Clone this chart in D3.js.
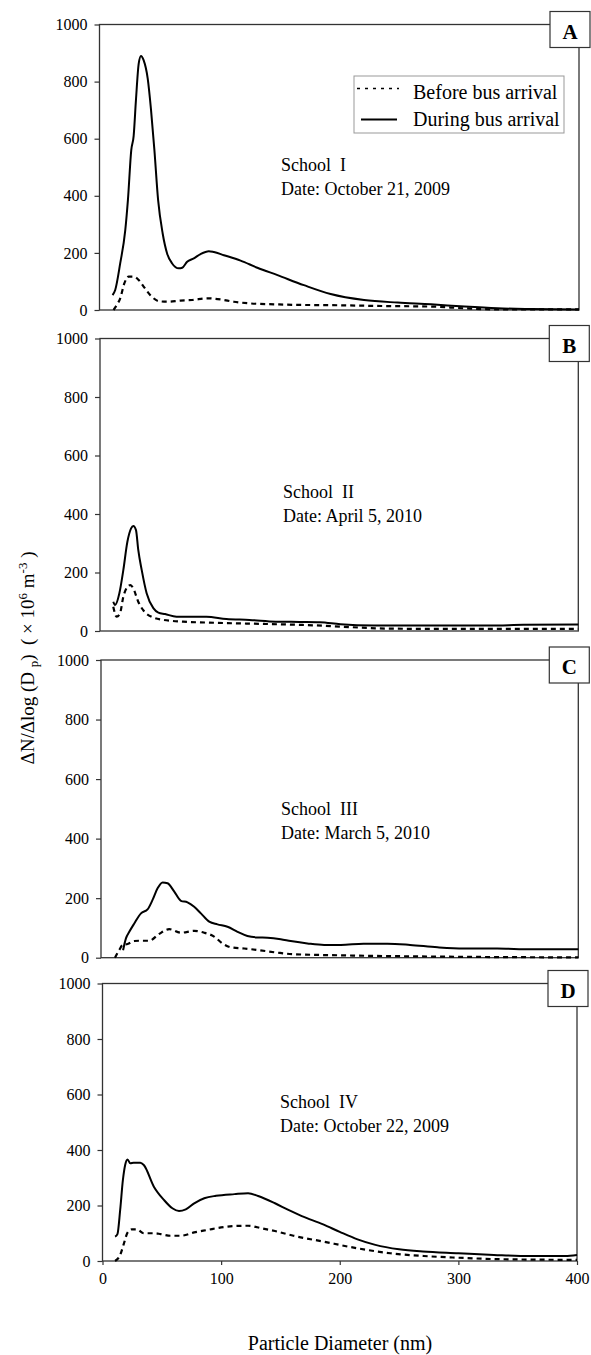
<!DOCTYPE html>
<html><head><meta charset="utf-8">
<script src="https://cdn.jsdelivr.net/npm/d3@7"></script>
<style>
body{margin:0;background:#fff}
svg{display:block}
text{font-family:"Liberation Serif","Times New Roman",serif;fill:#000}
</style>
</head><body>
<svg id="chart" width="591" height="1355"></svg>
<script>
// ---- data ----
const panelLetters = ["A", "B", "C", "D"];
const schoolNames = ["School  I", "School  II", "School  III", "School  IV"];
const schoolDates = ["Date: October 21, 2009", "Date: April 5, 2010", "Date: March 5, 2010", "Date: October 22, 2009"];
const seriesNames = ["Before bus arrival", "During bus arrival"];
const yTickValues = [0, 200, 400, 600, 800, 1000];
const xTickValues = [0, 100, 200, 300, 400];
const xAxisTitle = "Particle Diameter (nm)";

// [particle diameter (nm), dN/dlogDp (x10^6 m^-3)]
const schoolI_before = [[11.7,0],[14.5,18],[17.3,41],[20.7,93],[24.3,117],[28.5,117],[32.7,105],[36.8,82],[42.4,52],[49.4,31],[56.4,29],[67.5,33],[77.3,35],[89.9,41],[101,37],[112,29],[126,23],[145.6,20],[162,18],[193,17],[235,14],[277,12],[304,6],[332,2],[400,2]];
const schoolI_during = [[10.9,52],[13.1,70],[17.3,164],[21.5,280],[23.7,385],[26.5,560],[28.5,610],[30.4,735],[32.7,863],[34.6,890],[36.8,875],[40.2,811],[43,700],[45.8,560],[48.9,385],[52.7,268],[56.4,198],[60.6,163],[66.1,146],[69,148],[73.1,169],[78.7,181],[84.3,196],[91.2,206],[95.4,203],[103.8,192],[117.7,173],[131.7,148],[148.5,122],[170.5,87],[192.8,56],[220.7,35],[248.7,26],[276.6,20],[304.5,12],[332,6],[360,3.5],[400,2]];

const schoolII_before = [[11.1,83],[13.9,49],[16.7,60],[19.5,117],[23,151],[25.5,157],[27.8,146],[32,100],[36,72],[44.6,46],[53,38],[69.5,32],[97,28],[139,24],[167,21],[187,18],[201,15],[243,8],[300,7],[400,7]];
const schoolII_during = [[11.1,100],[12.6,89],[16.2,129],[19.5,208],[22.9,305],[26,351],[27.9,359],[30.1,345],[32,277],[34.9,208],[39,129],[44.6,78],[48.8,63],[54.4,58],[64,49],[89,49],[105.7,41],[125,38],[147,32],[167,31],[184,30],[201,23],[229,19],[284,19],[326,19],[354,21],[400,22]];

const schoolIII_before = [[11.7,0],[15.3,26],[18.1,43],[22.3,46],[27.9,56],[33.5,57],[40.4,57],[48.8,80],[57.2,96],[67,84],[78.1,90],[86.5,84],[94.8,71],[101.8,48],[108.8,35],[120,31],[131.1,26],[147.8,17],[160.4,12],[200,8],[250,5],[300,3],[400,1]];
const schoolIII_during = [[18.5,25],[20.9,65],[23.7,87],[27.9,115],[33.5,149],[39,162],[43.2,194],[47.4,233],[51.6,253],[55.8,250],[61.4,222],[67,191],[72.5,186],[78.1,171],[83.7,149],[90.7,121],[97.6,112],[106,104],[114.4,87],[122.7,73],[131.1,68],[139.5,67],[150.6,62],[159,56],[173,48],[187,43],[201,43],[220,47],[240,47],[259,43],[282,35],[304,31],[332,31],[360,28],[400,28]];

const schoolIV_before = [[10.6,0],[14.9,22],[17.7,58],[21.1,102],[24.8,114],[29,114],[34.8,100],[43.3,100],[49,97],[57.4,91],[66,91],[77.3,103],[88.6,112],[100,121],[111.3,126],[122.7,127],[134,118],[145.4,108],[161,91],[186,70],[214.5,46],[242.6,28],[270.8,18],[299,12],[330,7],[400,4]];
const schoolIV_during = [[10.6,88],[12.6,97],[14.9,184],[17.2,292],[19.1,346],[21.1,366],[23.4,352],[26.2,354],[31.9,354],[34.8,346],[43.3,268],[51.8,220],[58.9,190],[64.5,180],[70.2,186],[77.3,208],[85.8,226],[95.7,235],[111.3,241],[122.7,244],[131.2,234],[145.4,208],[156.7,184],[168,162],[186,132],[200,105],[215,78],[230,58],[250,42],[270,34],[300,28],[330,22],[360,18],[390,18],[400,22]];

const beforeSeries = [schoolI_before, schoolII_before, schoolIII_before, schoolIV_before];
const duringSeries = [schoolI_during, schoolII_during, schoolIII_during, schoolIV_during];

// ---- layout ----
const layout = [
  {left: 99.5, right: 579, top: 24.5, bottom: 310, tx: 281, ty: 171},
  {left: 100, right: 578.3, top: 338.5, bottom: 631, tx: 283, ty: 498},
  {left: 101, right: 578.3, top: 660, bottom: 957.7, tx: 281, ty: 815},
  {left: 102.5, right: 577, top: 983.5, bottom: 1261, tx: 280, ty: 1108}
];

const svg = d3.select("#chart");

layout.forEach((L, i) => {
  const x = d3.scaleLinear().domain([0, 400]).range([L.left, L.right]);
  const y = d3.scaleLinear().domain([0, 1000]).range([L.bottom, L.top]);
  const g = svg.append("g");

  // frame
  g.append("rect").attr("x", L.left).attr("y", L.top)
    .attr("width", L.right - L.left).attr("height", L.bottom - L.top)
    .attr("fill", "none").attr("stroke", "#333").attr("stroke-width", 1.3);

  // y axis
  const ya = g.append("g").attr("transform", `translate(${L.left},0)`)
    .call(d3.axisLeft(y).tickValues(yTickValues).tickSize(5).tickPadding(7).tickFormat(d3.format("d")));
  ya.select(".domain").remove();
  ya.selectAll(".tick line").attr("stroke", "#333").attr("stroke-width", 1.2);
  ya.selectAll(".tick text").style("font-family", '"Liberation Serif",serif').style("font-size", "16px").attr("fill", "#000");

  // x axis only for last panel
  if (i === layout.length - 1) {
    const xa = g.append("g").attr("transform", `translate(0,${L.bottom})`)
      .call(d3.axisBottom(x).tickValues(xTickValues).tickSize(4).tickPadding(8).tickFormat(d3.format("d")));
    xa.select(".domain").remove();
    xa.selectAll(".tick line").attr("stroke", "#333").attr("stroke-width", 1.2);
    xa.selectAll(".tick text").style("font-family", '"Liberation Serif",serif').style("font-size", "16px").attr("fill", "#000");
  }

  const line = d3.line().x(d => x(d[0])).y(d => y(d[1])).curve(d3.curveMonotoneX);

  g.append("path").datum(beforeSeries[i]).attr("d", line)
    .attr("fill", "none").attr("stroke", "#000").attr("stroke-width", 2.2)
    .attr("stroke-dasharray", "5,4");
  g.append("path").datum(duringSeries[i]).attr("d", line)
    .attr("fill", "none").attr("stroke", "#000").attr("stroke-width", 2);

  // school annotation
  g.append("text").attr("x", L.tx).attr("y", L.ty).style("white-space", "pre")
    .style("font-size", "18px").text(schoolNames[i]);
  g.append("text").attr("x", L.tx).attr("y", L.ty + 24)
    .style("font-size", "18px").text(schoolDates[i]);

  // panel letter box
  g.append("rect").attr("x", L.right - 29).attr("y", L.top - 13)
    .attr("width", 40).attr("height", 36)
    .attr("fill", "#fff").attr("stroke", "#333").attr("stroke-width", 1.2);
  g.append("text").attr("x", L.right - 9).attr("y", L.top + 14)
    .attr("text-anchor", "middle").style("font-size", "21px").style("font-weight", "bold")
    .text(panelLetters[i]);

  // legend in first panel
  if (i === 0) {
    const lg = g.append("g");
    lg.append("rect").attr("x", 354).attr("y", 76).attr("width", 210).attr("height", 57)
      .attr("fill", "#fff").attr("stroke", "#999").attr("stroke-width", 1);
    lg.append("line").attr("x1", 357).attr("x2", 399).attr("y1", 88.5).attr("y2", 88.5)
      .attr("stroke", "#000").attr("stroke-width", 1.6).attr("stroke-dasharray", "3,5");
    lg.append("line").attr("x1", 361).attr("x2", 397).attr("y1", 119.5).attr("y2", 119.5)
      .attr("stroke", "#000").attr("stroke-width", 2);
    lg.append("text").attr("x", 413).attr("y", 99).style("font-size", "20px").text(seriesNames[0]);
    lg.append("text").attr("x", 413).attr("y", 126).style("font-size", "20px").text(seriesNames[1]);
  }
});

// x-axis title
svg.append("text").attr("x", 340).attr("y", 1350).attr("text-anchor", "middle")
  .style("font-size", "20px").text(xAxisTitle);

// y-axis title
const yt = svg.append("text").attr("transform", "translate(34,658) rotate(-90)")
  .attr("text-anchor", "middle").style("font-size", "19px").style("white-space", "pre");
yt.append("tspan").text("\u0394N/\u0394log (D ");
yt.append("tspan").attr("dy", 4).style("font-size", "13px").text("p");
yt.append("tspan").attr("dy", -4).text(")  ( \u00d7 10");
yt.append("tspan").attr("dy", -7).style("font-size", "13px").text("6");
yt.append("tspan").attr("dy", 7).text(" m");
yt.append("tspan").attr("dy", -7).style("font-size", "13px").text("-3");
yt.append("tspan").attr("dy", 7).text(" )");
</script>
</body></html>
